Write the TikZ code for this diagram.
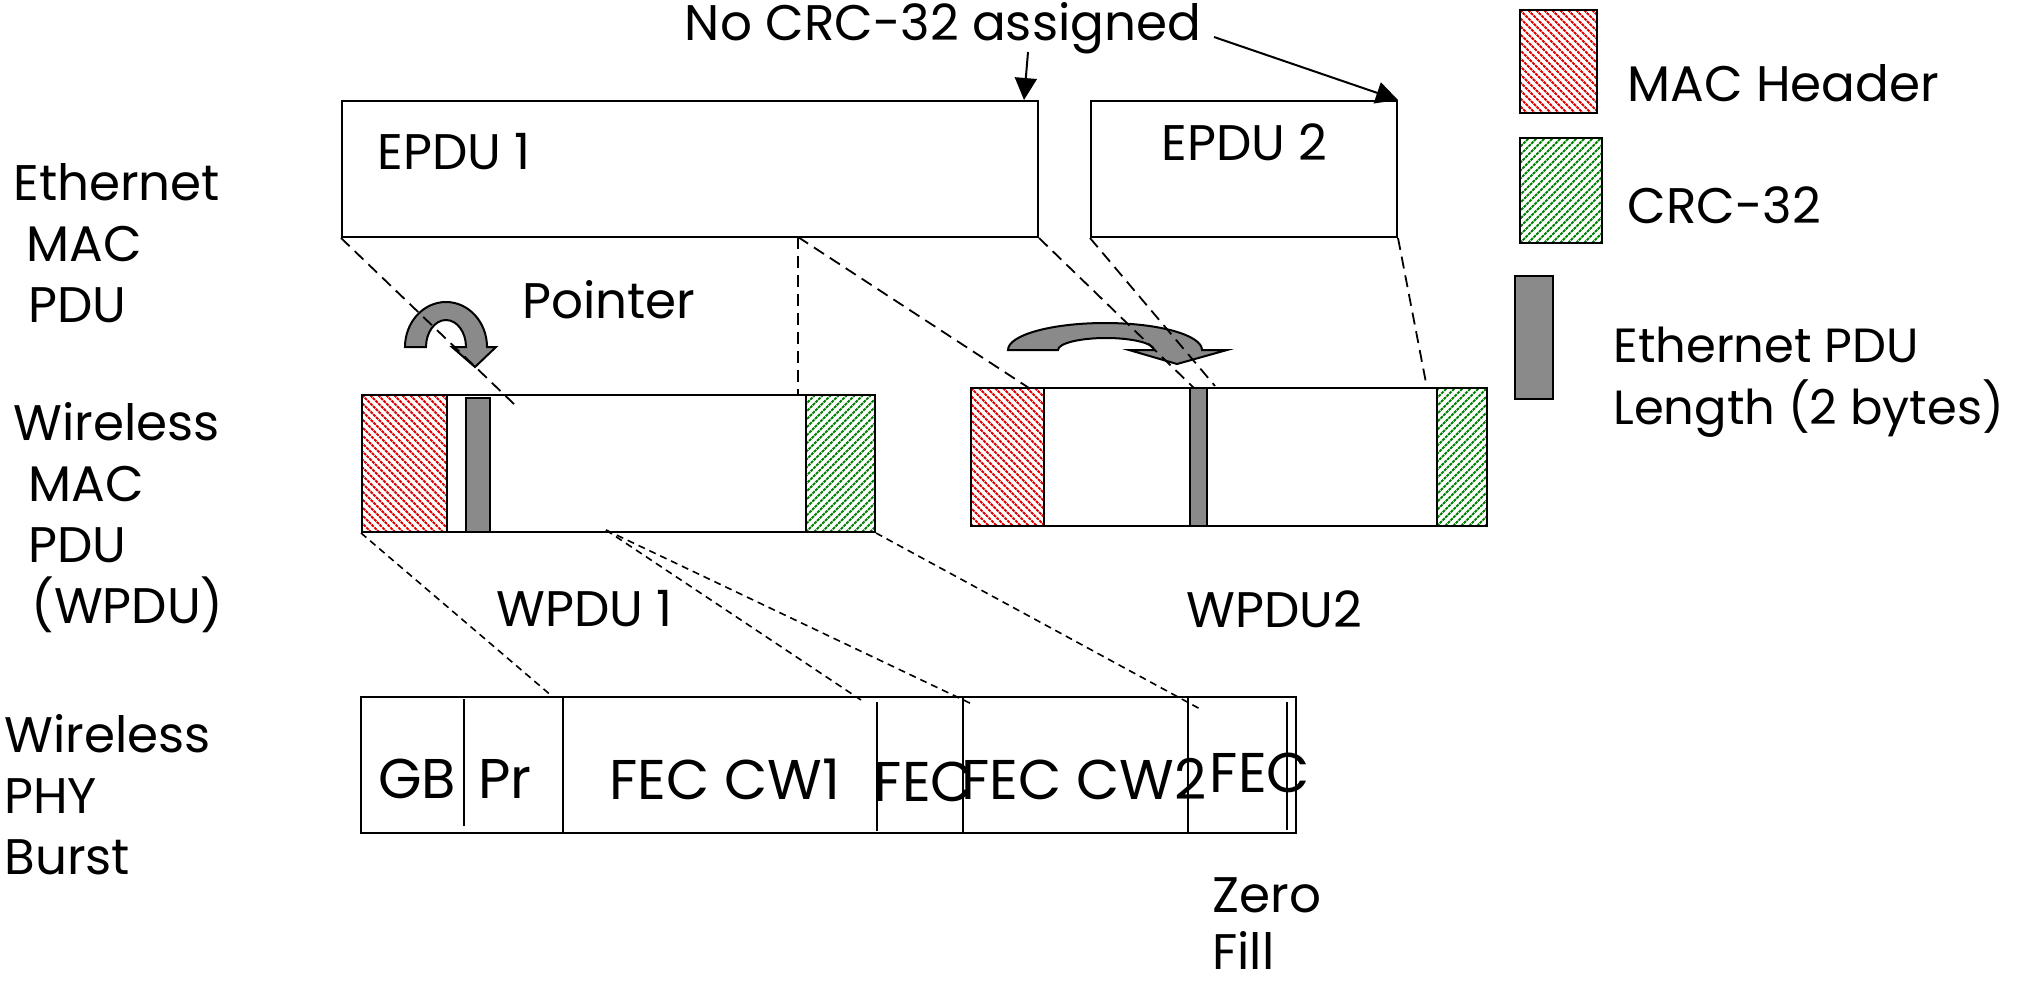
\documentclass[tikz,border=0pt]{standalone}
\usepackage{fontspec}
\setmainfont{Poppins}
\usetikzlibrary{arrows.meta,fit}
\definecolor{bargray}{RGB}{138,138,138}
\definecolor{hred}{RGB}{220,0,0}
\definecolor{hgreen}{RGB}{0,128,0}
\tikzset{
  box/.style={draw=black, line width=1pt, inner sep=0pt},
  redhatch/.style={draw=black, line width=1.4pt, inner sep=0pt, path picture={
    \foreach \i in {-20,...,12}
      \draw[hred, line width=0.95pt, dash pattern=on 1.5pt off 0.45pt]
        ([xshift=\i*4pt]path picture bounding box.north west) -- ++(90pt,-90pt);}},
  greenhatch/.style={draw=black, line width=1.4pt, inner sep=0pt, path picture={
    \foreach \i in {-20,...,12}
      \draw[hgreen, line width=0.95pt, dash pattern=on 1.5pt off 0.45pt]
        ([xshift=\i*4pt]path picture bounding box.south west) -- ++(90pt,90pt);}},
  lenbar/.style={draw=black, line width=1pt, fill=bargray, inner sep=0pt},
  upguide/.style={draw=black, line width=0.9pt, dash pattern=on 6pt off 3.5pt},
  lowguide/.style={draw=black, line width=0.8pt, dash pattern=on 3.5pt off 2.5pt},
  divider/.style={draw=black, line width=0.8pt},
  curvy/.style={draw=black, line width=1pt, fill=bargray},
  callout/.style={draw=black, line width=1pt, -{Triangle[length=11pt,width=11pt]}},
  lbl/.style={font=\fontsize{25}{30.5}\selectfont, inner sep=0pt, align=left},
  phy/.style={font=\fontsize{28}{34}\selectfont, inner sep=0pt},
}
\begin{document}
\begin{tikzpicture}[x=0.5pt,y=-0.5pt]
\fill[white] (0,0) rectangle (2022,981);
\useasboundingbox (0,0) rectangle (2022,981);

% curved arrows (drawn first, guides run over them)
\draw[curvy] (405,347) arc[start angle=180,end angle=0,x radius=20.5pt,y radius=22.5pt]
  -- (496,347) -- (475,367) -- (452,347) -- (466,347)
  arc[start angle=0,end angle=180,x radius=10pt,y radius=13.5pt] -- cycle;
\draw[curvy] (1008,350) arc[start angle=180,end angle=0,x radius=48.5pt,y radius=13.5pt]
  -- (1227,350) -- (1177,364) -- (1129,350) -- (1154,350)
  arc[start angle=0,end angle=180,x radius=24pt,y radius=6pt] -- cycle;

% Ethernet MAC PDUs
\node[box, fit={(342,101)(1038,237)}] (epdu1) {};
\node[box, fit={(1091,101)(1397,237)}] (epdu2) {};

% WPDU 1
\node[box, fit={(362,395)(875,532)}] (wpdu1) {};
\node[redhatch, fit={(362,395)(447,532)}] (hdr1) {};
\node[lenbar, fit={(466,398)(490,532)}] (len1) {};
\node[greenhatch, fit={(806,395)(875,532)}] (crc1) {};

% WPDU 2
\node[box, fit={(971,388)(1487,526)}] (wpdu2) {};
\node[redhatch, fit={(971,388)(1044,526)}] (hdr2) {};
\node[lenbar, fit={(1190,388)(1207,526)}] (len2) {};
\node[greenhatch, fit={(1437,388)(1487,526)}] (crc2) {};

% PHY burst
\node[box, line width=1.2pt, fit={(361,697)(563,833)}] (gbpr) {};
\node[box, fit={(563,697)(1296,833)}] (fecs) {};
\coordinate (d1a) at (464,699); \coordinate (d1b) at (464,826);
\coordinate (d2a) at (877,702); \coordinate (d2b) at (877,831);
\coordinate (d3a) at (963,697); \coordinate (d3b) at (963,833);
\coordinate (d4a) at (1188,697); \coordinate (d4b) at (1188,833);
\coordinate (d5a) at (1287,702); \coordinate (d5b) at (1287,830);
\draw[divider] (d1a) -- (d1b);
\draw[divider] (d2a) -- (d2b);
\draw[divider] (d3a) -- (d3b);
\draw[divider] (d4a) -- (d4b);
\draw[divider] (d5a) -- (d5b);

% legend
\node[redhatch, fit={(1520,10)(1597,113)}] (legred) {};
\node[greenhatch, fit={(1520,138)(1602,243)}] (leggreen) {};
\node[lenbar, fit={(1515,276)(1553,399)}] (legbar) {};

% guide lines EPDU -> WPDU
\coordinate (g1) at (514,404);
\coordinate (gm) at (798,237);
\coordinate (g2) at (798,395);
\coordinate (g3) at (1029,388);
\coordinate (g4) at (1194,388);
\coordinate (g5) at (1215,386);
\coordinate (g6) at (1427,388);
\draw[upguide] (epdu1.south west) -- (g1);
\draw[upguide] (gm) -- (g2);
\draw[upguide] (gm) -- (g3);
\draw[upguide] (epdu1.south east) -- (g4);
\draw[upguide] (epdu2.south west) -- (g5);
\draw[upguide] (epdu2.south east) -- (g6);

% guide lines WPDU -> PHY
\coordinate (s1) at (606,530);
\coordinate (p1) at (553,697);
\coordinate (p2) at (861,700);
\coordinate (p3) at (974,705);
\coordinate (p4) at (1202,710);
\draw[lowguide] (wpdu1.south west) -- (p1);
\draw[lowguide] (s1) -- (p2);
\draw[lowguide] (s1) -- (p3);
\draw[lowguide] (wpdu1.south east) -- (p4);

% callout
\node[lbl] (nocrc) at (943,28) {No CRC-32 assigned};
\coordinate (c1) at (1028,52);
\coordinate (c1t) at (1024,100);
\coordinate (c2) at (1214,37);
\draw[callout] (c1) -- (c1t);
\draw[callout] (c2) -- (epdu2.north east);

% labels
\node[lbl, anchor=west] (tepdu1) at (377,152) {EPDU 1};
\node[lbl, anchor=west] (tepdu2) at (1161,142) {EPDU 2};
\node[lbl, anchor=west] (tpointer) at (522,300) {Pointer};
\node[lbl, anchor=west] (twpdu1) at (496,609) {WPDU 1};
\node[lbl, anchor=west] (twpdu2) at (1186,609) {WPDU2};
\node[lbl, anchor=west, font=\fontsize{25}{28.5}\selectfont] (tzero) at (1212,924) {Zero\\Fill};

\node[phy] (tgb) at (417,779) {GB};
\node[phy] (tpr) at (505,779) {Pr};
\node[phy] (tcw1) at (725,779) {FEC CW1};
\node[phy] (tfec1) at (924,782) {FEC};
\node[phy] (tcw2) at (1084,779) {FEC CW2};
\node[phy] (tfec2) at (1260,773) {FEC};

\node[lbl, anchor=west] (leth) at (13,243) {Ethernet\\\hspace*{6.5pt}MAC\\\hspace*{7.5pt}PDU};
\node[lbl, anchor=west] (lwmac) at (13,518) {Wireless\\\hspace*{7.5pt}MAC\\\hspace*{7.5pt}PDU\\\hspace*{9pt}(WPDU)};
\node[lbl, anchor=west] (lphy) at (4,795) {Wireless\\PHY\\Burst};

\node[lbl, anchor=west] (tmac) at (1627,83) {MAC Header};
\node[lbl, anchor=west] (tcrc) at (1627,205) {CRC-32};
\node[lbl, anchor=west, font=\fontsize{24}{31}\selectfont] (tlen) at (1613,382) {Ethernet PDU\\Length (2 bytes)};
\end{tikzpicture}
\end{document}
